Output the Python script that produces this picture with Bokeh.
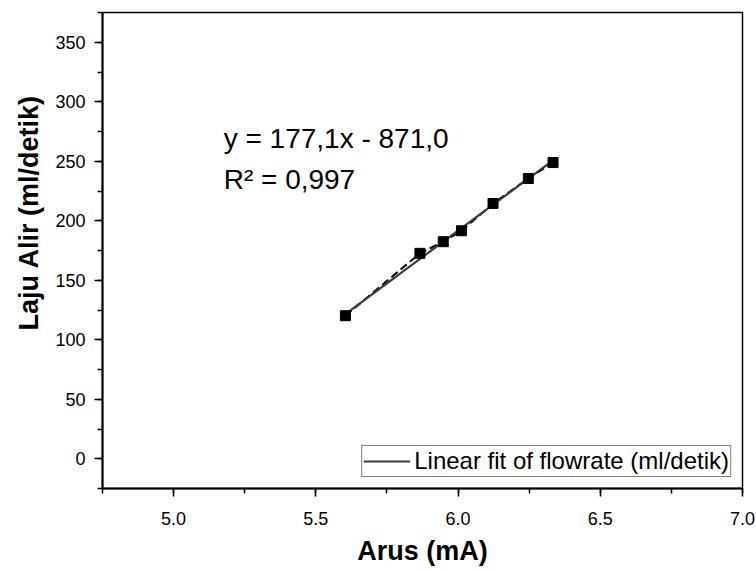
from bokeh.plotting import figure
from bokeh.models import (Range1d, SingleIntervalTicker, NumeralTickFormatter, Label, Title,
                          Legend, LegendItem, ColumnDataSource)
from bokeh.embed import file_html
from bokeh.resources import INLINE

# ---- data ----
arus = [5.604, 5.866, 5.948, 6.012, 6.123, 6.247, 6.334]          # Arus (mA)
laju = [120.2, 172.6, 182.4, 191.6, 214.5, 235.5, 248.9]          # Laju Alir (ml/detik)
fit_x = [5.604, 6.334]                                           # linear-fit end points
fit_y = [121.5, 250.8]
eq_text = "y = 177,1x - 871,0"
r2_text = "R\u00b2 = 0,997"
legend_text = "Linear fit of flowrate (ml/detik)"
x_title = "Arus (mA)"
y_title = "Laju Alir (ml/detik)"

FONT = "Liberation Sans"

src = ColumnDataSource(data=dict(x=arus, y=laju))
fit_src = ColumnDataSource(data=dict(x=fit_x, y=fit_y))

p = figure(width=756, height=570, x_range=Range1d(4.75, 7.0), y_range=Range1d(-25, 375),
           output_backend="svg", toolbar_location=None,
           min_border_left=102, min_border_right=14, min_border_top=12, min_border_bottom=82)

p.xgrid.visible = False
p.ygrid.visible = False
p.outline_line_color = "black"
p.outline_line_width = 1.5
p.background_fill_color = "white"
p.border_fill_color = "white"

# data (dashed connecting line + squares) and fit line
p.line("x", "y", source=src, line_color="black", line_width=2, line_dash="8 4")
fit = p.line("x", "y", source=fit_src, line_color="#3c3c3c", line_width=2.2)
p.scatter("x", "y", source=src, marker="square", size=10, fill_color="black", line_color="black")

# axes
xa = p.xaxis[0]
ya = p.yaxis[0]
xa.ticker = SingleIntervalTicker(interval=0.5, num_minor_ticks=2)
ya.ticker = SingleIntervalTicker(interval=50, num_minor_ticks=2)
xa.formatter = NumeralTickFormatter(format="0.0")
ya.formatter = NumeralTickFormatter(format="0")
for ax in (xa, ya):
    ax.axis_line_color = "black"
    ax.axis_line_width = 2
    ax.major_tick_line_color = "black"
    ax.minor_tick_line_color = "black"
    ax.major_tick_line_width = 1.5
    ax.minor_tick_line_width = 1.5
    ax.major_tick_in = 0
    ax.major_tick_out = 8
    ax.minor_tick_in = 0
    ax.minor_tick_out = 5
    ax.major_label_text_font = FONT
    ax.major_label_text_font_size = "18px"
    ax.major_label_text_color = "black"
    ax.axis_label_text_font = FONT
    ax.axis_label_text_font_size = "27px"
    ax.axis_label_text_font_style = "bold"
    ax.axis_label_text_color = "black"
xa.axis_label = x_title
xa.major_label_standoff = 15
ya.major_label_standoff = 9
xa.axis_label_standoff = 8

# y-axis title, starting above the frame bottom as in the reference
p.add_layout(Title(text=y_title, align="left", offset=158, standoff=17,
                   text_font=FONT, text_font_size="27px", text_font_style="bold",
                   text_color="black"), "left")

# equation annotations
p.add_layout(Label(x=5.176, y=268.7, text=eq_text, text_font=FONT, text_font_size="28px",
                   text_color="black", text_baseline="alphabetic", text_align="left"))
p.add_layout(Label(x=5.176, y=234.4, text=r2_text, text_font=FONT, text_font_size="28px",
                   text_color="black", text_baseline="alphabetic", text_align="left"))

# legend
legend = Legend(items=[LegendItem(label=legend_text, renderers=[fit])],
                location="bottom_right", margin=11, padding=1, spacing=0,
                glyph_width=47, glyph_height=24, label_standoff=4,
                label_text_font=FONT, label_text_font_size="24px", label_text_color="black",
                border_line_color="black", border_line_width=1.2,
                background_fill_color="white", background_fill_alpha=1.0)
p.add_layout(legend)

open("out.html", "w").write(file_html(p, INLINE))
